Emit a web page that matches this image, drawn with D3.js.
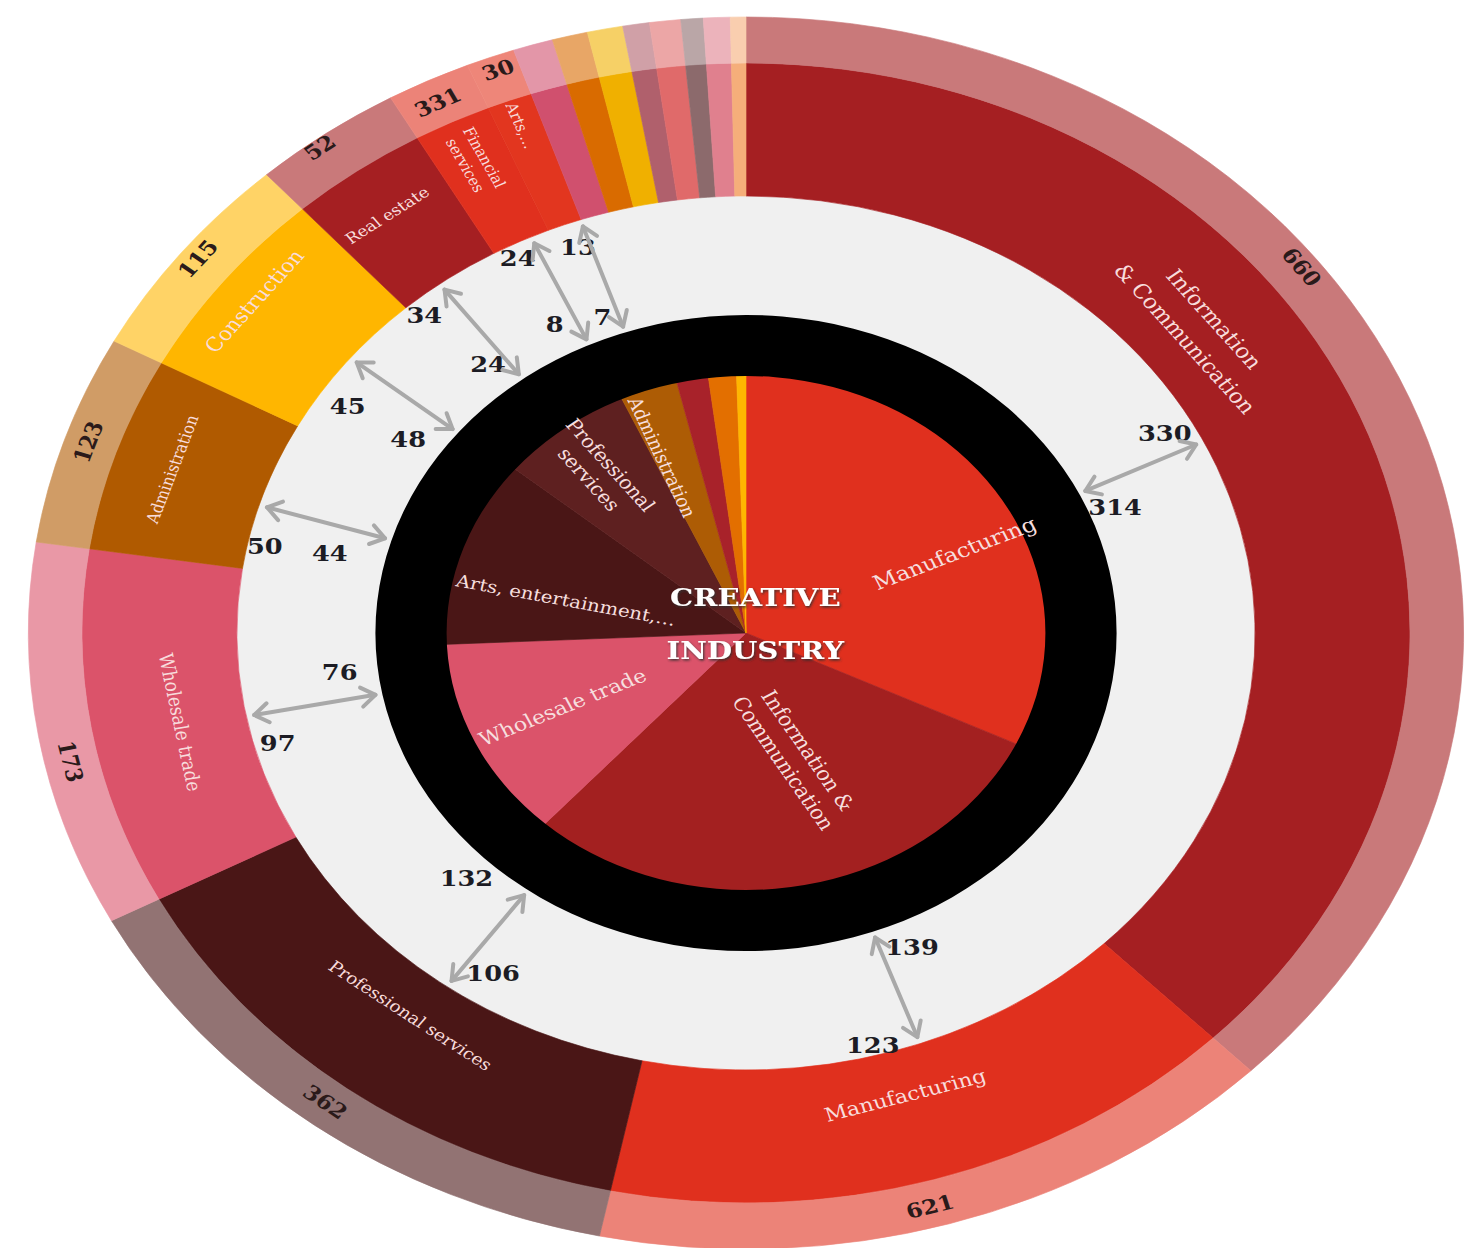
<!DOCTYPE html>
<html>
<head>
<meta charset="utf-8">
<script src="https://cdn.jsdelivr.net/npm/d3@7"></script>
<style>
  body { margin: 0; background: #fff; }
  text { font-family: "DejaVu Serif", Georgia, serif; }
</style>
</head>
<body>
<svg></svg>
<script>
// outer ring sectors (share of the circle in %)
const outerNames = ['Information\n& Communication', 'Manufacturing', 'Professional services', 'Wholesale trade',
    'Administration', 'Construction', 'Real estate', 'Financial\nservices', 'Arts,…',
    '', '', '', '', '', '', '', ''];
const outerShare = [37.6, 15.7, 14.0, 10.1, 5.5, 5.5, 3.4, 1.9, 1.1, 0.9, 0.8, 0.8, 0.6, 0.7, 0.5, 0.6, 0.35];
const outerCount = [660, 621, 362, 173, 123, 115, 52, 331, 30];
const outerColors = ['#a51f22', '#e0301e', '#4a1616', '#db536a', '#b05a00', '#ffb600', '#a51f22', '#e0301e', '#e2361f',
    '#d0506e', '#d96b00', '#f0b000', '#b0606c', '#e06a6a', '#8c6a6c', '#e0808e', '#f5ae7a'];

// inner pie (creative industry)
const innerNames = ['Manufacturing', 'Information &\nCommunication', 'Wholesale trade', 'Arts, entertainment,…',
    'Professional\nservices', 'Administration', '', '', ''];
const innerShare = [32.1, 29.6, 12.6, 11.7, 7.2, 3.1, 1.7, 1.5, 0.5];
const innerColors = ['#e0301e', '#a32020', '#db536a', '#4a1616', '#5e2020', '#ad5c05', '#a8222a', '#e36f00', '#ffb600'];

// double arrows between the pie and the outer ring
const arrowAngle = [64, 160, 216, 259, 287, 309, 323, 335, 341];
const arrowOuter = [330, 123, 106, 97, 50, 45, 34, 24, 13];
const arrowInner = [314, 139, 132, 76, 44, 48, 24, 8, 7];

// ---------- layout ----------
const cx = 746, cy = 633, sx = 1.165;
const rPie = 259, rRingIn = 257, rRingOut = 318, rDisc = 437, rBand = 570, rOuter = 616;

// label placement [angle, radius, font size], angle null = sector middle
const bandLabelPos = [[52, 494, 20], [null, 482, 19], [null, 479, 16], [259.6, 494, 17], [null, 519, 15],
    [null, 537, 19], [323.6, 519, 15], [null, 526, 14], [null, 543, 14]];
const bandRadial = [false, false, false, false, false, false, false, true, true];
const countPos = [[52.5, 601], [164.6, 595], [217.6, 592], [257.5, 594], [288.7, 596], [308.5, 601], [323, 608], [333.5, 593], [339.3, 602]];
const innerLabelPos = [[66, 196, 20], [161, 131, 19], [244.8, 174, 19], [282, 158, 17], [322, 204, 18], [337.7, 190, 17]];
const innerRotate = [null, 59, null, null, null, null];
const arrowOuterPos = [[61, 411], [165.2, 426], [212.5, 404], [254.6, 417], [281.8, 422], [303.5, 410], [319, 421], [332.4, 423], [339.5, 412]];
const arrowInnerPos = [[68.3, 341], [155.6, 345], [224.4, 343], [263.6, 351], [282.5, 366], [303.8, 349], [320.5, 348], [332, 350], [338.7, 339]];

const svg = d3.select('svg')
    .attr('width', 1474)
    .attr('height', 1248);

const filter = svg.append('defs').append('filter').attr('id', 'shade');
filter.append('feDropShadow')
    .attr('dx', 1).attr('dy', 1.5).attr('stdDeviation', 0.8)
    .attr('flood-color', '#333').attr('flood-opacity', 0.9);

// whole picture is a bit wider than tall
const g = svg.append('g').attr('transform', `translate(${cx},${cy}) scale(${sx},1)`);

const pie = d3.pie().sort(null).value(d => d);
const outerArcs = pie(outerShare);
const innerArcs = pie(innerShare);
const lighten = c => d3.interpolateRgb(c, '#fff')(0.4);
const deg = d => (d.startAngle + d.endAngle) / 2 * 180 / Math.PI;

function polar(a, r) {
    const t = a * Math.PI / 180;
    return [r * Math.sin(t), -r * Math.cos(t)];
}

function rotation(a, radial) {
    if (radial) return a < 180 ? a - 90 : a - 270;
    return (a > 90 && a < 270) ? a - 180 : a;
}

function label(text, a, r, rot, size, fill, weight, lhf) {
    const [x, y] = polar(a, r);
    const lines = text.split('\n');
    const lh = size * (lhf || 1.3);
    const t = g.append('text')
        .attr('transform', `translate(${x},${y}) rotate(${rot})`)
        .attr('text-anchor', 'middle')
        .style('font-size', size + 'px')
        .style('font-weight', weight)
        .attr('fill', fill);
    lines.forEach((l, i) => {
        t.append('tspan')
            .attr('x', 0)
            .attr('y', (i - (lines.length - 1) / 2) * lh + size * 0.35)
            .text(l);
    });
}

// grey disc behind the arrows
g.append('circle').attr('r', rDisc).attr('fill', '#f0f0f0');

// outer ring: dark band + light rim
g.selectAll('path.band')
    .data(outerArcs)
    .enter()
    .append('path')
    .attr('class', 'band')
    .attr('d', d3.arc().innerRadius(rDisc).outerRadius(rBand))
    .attr('fill', (d, i) => outerColors[i])
    .attr('stroke', (d, i) => outerColors[i])
    .attr('stroke-width', 0.6);

g.selectAll('path.rim')
    .data(outerArcs)
    .enter()
    .append('path')
    .attr('class', 'rim')
    .attr('d', d3.arc().innerRadius(rBand).outerRadius(rOuter))
    .attr('fill', (d, i) => lighten(outerColors[i]))
    .attr('stroke', (d, i) => lighten(outerColors[i]))
    .attr('stroke-width', 0.6);

// inner pie
g.selectAll('path.slice')
    .data(innerArcs)
    .enter()
    .append('path')
    .attr('class', 'slice')
    .attr('d', d3.arc().innerRadius(0).outerRadius(rPie))
    .attr('fill', (d, i) => innerColors[i])
    .attr('stroke', (d, i) => innerColors[i])
    .attr('stroke-width', 0.6);

// black ring
g.append('path')
    .attr('d', d3.arc().innerRadius(rRingIn).outerRadius(rRingOut).startAngle(0).endAngle(2 * Math.PI)())
    .attr('fill', '#000');

// band labels
outerArcs.forEach((d, i) => {
    if (!outerNames[i]) return;
    const p = bandLabelPos[i];
    const a = p[0] === null ? deg(d) : p[0];
    label(outerNames[i], a, p[1], rotation(a, bandRadial[i]), p[2], '#f8dcdc', 'normal', i === 0 ? 1.6 : 1.3);
});

// counts on the light rim
outerCount.forEach((v, i) => {
    const [a, r] = countPos[i];
    label(String(v), a, r, rotation(a, false), 20, '#2a1a1a', 'bold');
});

// pie labels
innerNames.forEach((n, i) => {
    if (!n) return;
    const [a, r, s] = innerLabelPos[i];
    const rot = innerRotate[i] === null ? rotation(a, true) : innerRotate[i];
    label(n, a, r, rot, s, '#f6dede', 'normal');
});

// centre title
['CREATIVE', 'INDUSTRY'].forEach((w, i) => {
    g.append('text')
        .attr('x', 8)
        .attr('y', i === 0 ? -27 : 26)
        .attr('text-anchor', 'middle')
        .attr('fill', '#fff')
        .attr('filter', 'url(#shade)')
        .style('font-size', '25px')
        .style('font-weight', 'bold')
        .text(w);
});

// arrows, drawn in screen space so strokes stay even
const scr = (a, r) => { const [x, y] = polar(a, r); return [cx + sx * x, cy + y]; };
const arrows = svg.append('g')
    .attr('fill', 'none')
    .attr('stroke', '#a9a9a9')
    .attr('stroke-width', 4)
    .attr('stroke-linecap', 'round')
    .attr('stroke-linejoin', 'round');

function head(p, q) {
    // chevron at p, pointing away from q
    const dx = p[0] - q[0], dy = p[1] - q[1];
    const len = Math.hypot(dx, dy);
    const ux = dx / len, uy = dy / len;
    const L = 17, s = Math.sin(0.6), c = Math.cos(0.6);
    const a1 = [p[0] - L * (ux * c - uy * s), p[1] - L * (uy * c + ux * s)];
    const a2 = [p[0] - L * (ux * c + uy * s), p[1] - L * (uy * c - ux * s)];
    return `M${a1}L${p}L${a2}`;
}

arrowAngle.forEach(a => {
    const p1 = scr(a, 324), p2 = scr(a, 430);
    arrows.append('path').attr('d', `M${p1}L${p2}`);
    arrows.append('path').attr('d', head(p1, p2));
    arrows.append('path').attr('d', head(p2, p1));
});

arrowOuter.forEach((v, i) => {
    label(String(v), arrowOuterPos[i][0], arrowOuterPos[i][1], 0, 22, '#1c1c24', 'bold');
    label(String(arrowInner[i]), arrowInnerPos[i][0], arrowInnerPos[i][1], 0, 22, '#1c1c24', 'bold');
});
</script>
</body>
</html>
